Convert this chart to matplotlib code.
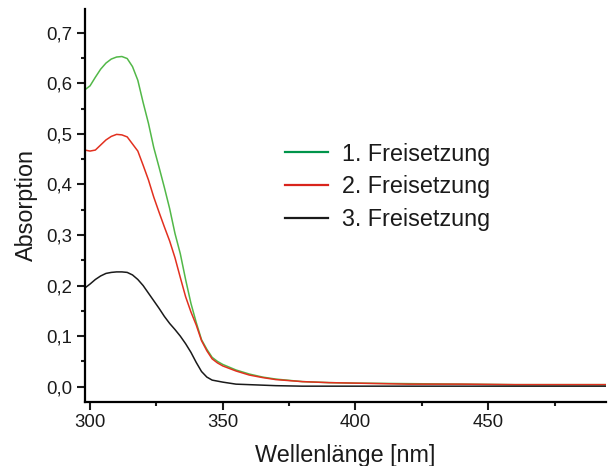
import matplotlib
matplotlib.use("Agg")
import matplotlib.pyplot as plt
import matplotlib.ticker as ticker
from matplotlib.lines import Line2D

plt.rcParams["font.family"] = ["Liberation Sans", "DejaVu Sans"]

# ── Data ────────────────────────────────────────────────────────────────────
wavelength = [298, 300, 302, 304, 306, 308, 310, 312, 314, 316, 318, 320, 322,
              324, 326, 328, 330, 332, 334, 336, 338, 340, 342, 344, 346, 348,
              350, 355, 360, 365, 370, 380, 390, 400, 420, 440, 460, 480, 495]

release_1 = [0.587, 0.595, 0.612, 0.628, 0.640, 0.648, 0.652, 0.653, 0.649,
             0.633, 0.606, 0.562, 0.521, 0.473, 0.434, 0.394, 0.352, 0.303,
             0.263, 0.212, 0.165, 0.127, 0.093, 0.074, 0.058, 0.050, 0.044,
             0.033, 0.025, 0.019, 0.015, 0.010, 0.008, 0.007, 0.006, 0.005,
             0.004, 0.004, 0.004]

release_2 = [0.468, 0.466, 0.468, 0.478, 0.488, 0.495, 0.499, 0.498, 0.494,
             0.480, 0.466, 0.438, 0.409, 0.375, 0.345, 0.316, 0.288, 0.255,
             0.216, 0.178, 0.148, 0.122, 0.091, 0.071, 0.055, 0.047, 0.041,
             0.031, 0.023, 0.018, 0.014, 0.010, 0.008, 0.007, 0.005, 0.005,
             0.004, 0.004, 0.004]

release_3 = [0.195, 0.203, 0.212, 0.219, 0.224, 0.226, 0.227, 0.227, 0.226,
             0.221, 0.212, 0.200, 0.185, 0.170, 0.155, 0.139, 0.125, 0.113,
             0.100, 0.085, 0.068, 0.048, 0.030, 0.019, 0.013, 0.011, 0.009,
             0.005, 0.004, 0.003, 0.002, 0.001, 0.001, 0.001, 0.001, 0.001,
             0.001, 0.001, 0.001]

labels = ["1. Freisetzung", "2. Freisetzung", "3. Freisetzung"]
line_colors = ["#52b848", "#e2301f", "#1a1a1a"]
legend_colors = ["#00944a", "#d9241c", "#1a1a1a"]

# ── Figure ──────────────────────────────────────────────────────────────────
fig = plt.figure(figsize=(6.08, 4.66), dpi=100)
ax = fig.add_axes([0.1398, 0.138, 0.857, 0.8427])

for ys, c in zip([release_1, release_2, release_3], line_colors):
    ax.plot(wavelength, ys, color=c, linewidth=1.1)

ax.set_xlim(298.1, 494.4)
ax.set_ylim(-0.0297, 0.747)

ax.xaxis.set_major_locator(ticker.MultipleLocator(50))
ax.xaxis.set_minor_locator(ticker.MultipleLocator(25))
ax.yaxis.set_major_locator(ticker.MultipleLocator(0.1))
ax.yaxis.set_minor_locator(ticker.MultipleLocator(0.05))
ax.yaxis.set_major_formatter(
    ticker.FuncFormatter(lambda v, _: f"{v:.1f}".replace(".", ",")))

ax.spines["top"].set_visible(False)
ax.spines["right"].set_visible(False)
for s in ("left", "bottom"):
    ax.spines[s].set_linewidth(1.6)

ax.tick_params(which="major", direction="out", length=5.5, width=1.5,
               labelsize=13.4, colors="#1a1a1a", pad=3.5)
ax.tick_params(which="minor", direction="out", length=3, width=1.5,
               colors="#1a1a1a")

ax.set_xlabel("Wellenlänge [nm]", fontsize=16.8, labelpad=9, color="#1a1a1a")
ax.set_ylabel("Absorption", fontsize=16.8, labelpad=6, color="#1a1a1a")

handles = [Line2D([], [], color=c, linewidth=1.6) for c in legend_colors]
ax.legend(handles, labels, loc="center left", bbox_to_anchor=(0.383, 0.547),
          frameon=False, fontsize=16.8, handlelength=1.85, handletextpad=0.6,
          labelspacing=0.42, borderpad=0, borderaxespad=0,
          labelcolor="#1a1a1a")

fig.savefig("out.png", dpi=100)
